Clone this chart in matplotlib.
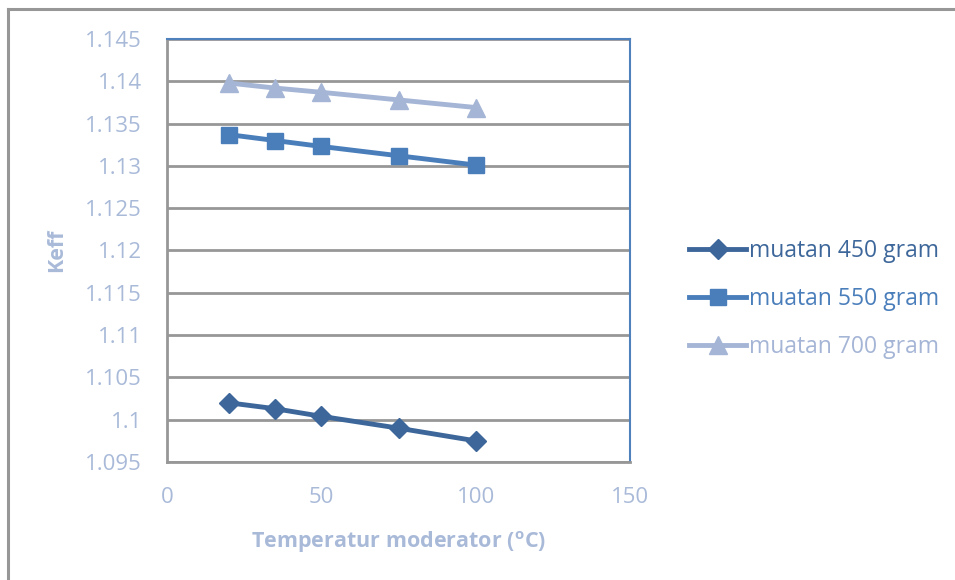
import matplotlib
matplotlib.use("Agg")
import matplotlib.pyplot as plt
from matplotlib.lines import Line2D

temps = [20, 35, 50, 75, 100]
keff_450 = [1.1020, 1.1013, 1.1004, 1.0990, 1.0975]
keff_550 = [1.1337, 1.1330, 1.1323, 1.1312, 1.1301]
keff_700 = [1.1398, 1.1392, 1.1387, 1.1378, 1.1369]
series_labels = ["muatan 450 gram", "muatan 550 gram", "muatan 700 gram"]
y_ticks = [1.095, 1.1, 1.105, 1.11, 1.115, 1.12, 1.125, 1.13, 1.135, 1.14, 1.145]
y_ticklabels = ["1.095", "1.1", "1.105", "1.11", "1.115", "1.12", "1.125", "1.13", "1.135", "1.14", "1.145"]
x_ticks = [0, 50, 100, 150]

plt.rcParams['font.family'] = ['Open Sans', 'DejaVu Sans']

c450 = "#3D679A"
c550 = "#4A7EBB"
c700 = "#A5B5D6"
txt = "#A9BAD9"
gridc = "#979797"

fig = plt.figure(figsize=(9.55, 5.8), dpi=100)
ax = fig.add_axes([167/955, 1-462/580, (630-167)/955, (462-39)/580])

ax.plot(temps, keff_450, color=c450, lw=3.5, marker="D", ms=10, label=series_labels[0], zorder=3)
ax.plot(temps, keff_550, color=c550, lw=3.5, marker="s", ms=12, label=series_labels[1], zorder=3)
ax.plot(temps, keff_700, color=c700, lw=3.5, marker="^", ms=13, label=series_labels[2], zorder=3)

ax.set_xlim(0, 150)
ax.set_ylim(1.095, 1.145)
ax.set_xticks(x_ticks)
ax.set_yticks(y_ticks)
ax.set_yticklabels(y_ticklabels)
ax.yaxis.grid(True, color=gridc, lw=2)
ax.set_axisbelow(True)
ax.tick_params(axis="both", length=0, labelsize=16, labelcolor=txt)
ax.tick_params(axis="y", pad=18)
ax.tick_params(axis="x", pad=18)
for s in ["left", "bottom"]:
    ax.spines[s].set_color(gridc)
    ax.spines[s].set_linewidth(2)
ax.spines["right"].set_color("#4F81BD")
ax.spines["right"].set_linewidth(1.5)
ax.spines["top"].set_color("#4F81BD")
ax.spines["top"].set_linewidth(1.5)

ax.set_xlabel("Temperatur moderator ($\\mathregular{^{o}}$C)", fontsize=15.5, fontweight="bold", color=txt, labelpad=15)
ax.set_ylabel("Keff", fontsize=15.5, fontweight="bold", color=txt, labelpad=13)

leg = fig.legend(loc="upper left", bbox_to_anchor=(689/955, 1-239/580), frameon=False,
                 fontsize=16.5, labelspacing=1.05, handlelength=2.5, handletextpad=0.1,
                 borderaxespad=0, borderpad=0)
for t, c in zip(leg.get_texts(), [c450, c550, c700]):
    t.set_color(c)

# outer border
fig.add_artist(Line2D([8/955, 8/955], [0, 1-9/580], color=gridc, lw=2.2, transform=fig.transFigure))
fig.add_artist(Line2D([8/955, 1], [1-9/580, 1-9/580], color=gridc, lw=2.2, transform=fig.transFigure))

fig.savefig("out.png", dpi=100)
